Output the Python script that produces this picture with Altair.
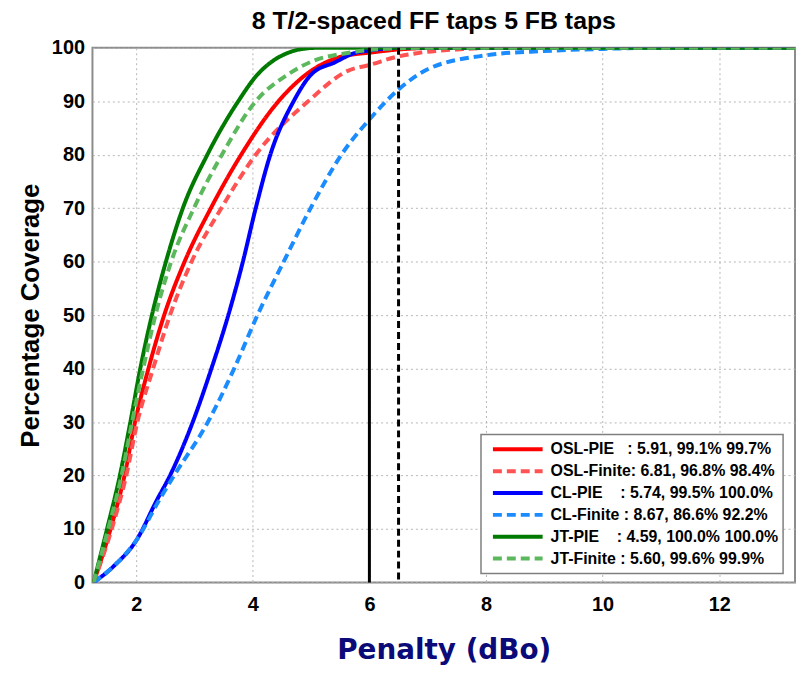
import altair as alt
import pandas as pd

# ---------------- data ----------------
labels = [
    "OSL-PIE\u00a0\u00a0\u00a0: 5.91, 99.1% 99.7%",
    "OSL-Finite: 6.81, 96.8% 98.4%",
    "CL-PIE\u00a0\u00a0\u00a0\u00a0: 5.74, 99.5% 100.0%",
    "CL-Finite : 8.67, 86.6% 92.2%",
    "JT-PIE\u00a0\u00a0\u00a0\u00a0: 4.59, 100.0% 100.0%",
    "JT-Finite : 5.60, 99.6% 99.9%",
]
colors = ["#ff0000", "#ff5252", "#0000ff", "#1a8cff", "#007a00", "#5cb85c"]
dashes = [[1, 0], [9, 5], [1, 0], [9, 5], [1, 0], [9, 5]]

osl_pie_x = [1.27, 1.56, 1.80, 1.98, 2.21, 2.48, 2.83, 3.28, 3.80, 4.44, 5.00, 5.50, 5.91, 6.00, 6.50, 7.20, 13.3]
osl_pie_y = [0, 10, 20, 30, 40, 50, 60, 70, 80, 90, 95.7, 98.3, 99.0, 99.1, 99.7, 100, 100]

osl_fin_x = [1.27, 1.58, 1.83, 2.02, 2.29, 2.58, 2.95, 3.46, 4.05, 4.95, 5.63, 6.00, 6.50, 6.81, 7.50, 8.20, 13.3]
osl_fin_y = [0, 10, 20, 30, 40, 50, 60, 70, 80, 90, 95.7, 96.8, 98.4, 99.0, 99.7, 100, 100]

cl_pie_x = [1.27, 1.61, 2.01, 2.35, 2.58, 2.97, 3.29, 3.58, 3.83, 4.05, 4.30, 4.70, 5.01, 5.41, 5.74, 6.00, 6.50, 13.3]
cl_pie_y = [0, 3, 8, 15.3, 20, 30, 40, 50, 60, 70, 80, 90, 95.1, 97.3, 99.0, 99.5, 100, 100]

cl_fin_x = [1.27, 1.61, 2.01, 2.40, 2.65, 3.23, 3.68, 4.08, 4.53, 5.01, 5.52, 6.00, 6.50, 7.00, 8.00, 9.00, 10.0, 11.0, 13.3]
cl_fin_y = [0, 3, 8, 15.5, 20, 30, 40, 50, 60, 70.4, 80, 86.6, 92.2, 96.0, 98.6, 99.4, 99.8, 100, 100]

jt_pie_x = [1.27, 1.50, 1.72, 1.90, 2.07, 2.27, 2.51, 2.80, 3.22, 3.75, 4.08, 4.35, 4.59, 4.80, 5.10, 13.3]
jt_pie_y = [0, 10, 20, 30, 40, 50, 60, 70, 80, 90, 95, 97.6, 99.0, 99.7, 100, 100]

jt_fin_x = [1.27, 1.52, 1.75, 1.93, 2.12, 2.33, 2.60, 2.99, 3.47, 4.05, 4.60, 5.00, 5.60, 6.00, 6.50, 7.00, 13.3]
jt_fin_y = [0, 10, 20, 30, 40, 50, 60, 70, 80, 90, 95, 97.4, 99.0, 99.6, 99.9, 100, 100]

series_x = [osl_pie_x, osl_fin_x, cl_pie_x, cl_fin_x, jt_pie_x, jt_fin_x]
series_y = [osl_pie_y, osl_fin_y, cl_pie_y, cl_fin_y, jt_pie_y, jt_fin_y]

solid_threshold = [6.0]
dashed_threshold = [6.5]

x_ticks = [2, 4, 6, 8, 10, 12]
y_ticks = [0, 10, 20, 30, 40, 50, 60, 70, 80, 90, 100]

# ---------------- tables ----------------
rows = []
for lab, xs, ys in zip(labels, series_x, series_y):
    for i, (xv, yv) in enumerate(zip(xs, ys)):
        rows.append({"series": lab, "penalty": xv, "coverage": yv, "order": i})
df = pd.DataFrame(rows)
df_solid = pd.DataFrame({"penalty": solid_threshold})
df_dash = pd.DataFrame({"penalty": dashed_threshold})

FONT = "Liberation Sans"
x_scale = alt.Scale(domain=[1.25, 13.3], nice=False, zero=False)
y_scale = alt.Scale(domain=[0, 100], nice=False)

legend = alt.Legend(title=None, orient="none", legendX=391, legendY=389)

lines = alt.Chart(df).mark_line(strokeWidth=4, clip=True, interpolate="monotone").encode(
    x=alt.X("penalty:Q", scale=x_scale,
            axis=alt.Axis(values=x_ticks, format="d", title="Penalty (dBo)")),
    y=alt.Y("coverage:Q", scale=y_scale,
            axis=alt.Axis(values=y_ticks, format="d", title="Percentage Coverage")),
    color=alt.Color("series:N", sort=labels,
                    scale=alt.Scale(domain=labels, range=colors), legend=legend),
    strokeDash=alt.StrokeDash("series:N", sort=labels,
                              scale=alt.Scale(domain=labels, range=dashes), legend=legend),
    order="order:Q",
)

rule_solid = alt.Chart(df_solid).mark_rule(color="black", strokeWidth=3).encode(x="penalty:Q")
rule_dash = alt.Chart(df_dash).mark_rule(color="black", strokeWidth=3, strokeDash=[7, 4]).encode(x="penalty:Q")

chart = alt.layer(lines, rule_solid, rule_dash).properties(
    width=707, height=538,
    title=alt.Title("8 T/2-spaced FF taps 5 FB taps", font=FONT, fontSize=25,
                    fontWeight="bold", color="black", anchor="middle", offset=4, dx=-10),
    padding={"left": 85, "top": 38, "right": 2, "bottom": 81},
    autosize=alt.AutoSizeParams(type="none"),
).configure_view(
    stroke="#8c8c8c", strokeWidth=2
).configure_axis(
    domain=False,
    ticks=False,
    grid=True,
    gridColor="#b5b5b5",
    gridDash=[2, 3],
    gridWidth=1,
    labelFont=FONT,
    labelFontSize=20,
    labelFontWeight="bold",
    labelColor="black",
    titleFont=FONT,
    titleFontWeight="bold",
    titleColor="black",
).configure_axisX(
    labelPadding=12,
    titleFont="DejaVu Sans",
    titleFontSize=28,
    titleColor="#0a0a78",
    titlePadding=23,
).configure_axisY(
    labelPadding=8,
    titleFontSize=26,
    titlePadding=8,
).configure_legend(
    padding=4,
    fillColor="white",
    strokeColor="#7f7f7f",
    strokeWidth=1.5,
    symbolType="stroke",
    symbolSize=2500,
    symbolStrokeWidth=4,
    symbolOffset=6,
    clipHeight=22,
    rowPadding=0,
    labelFont=FONT,
    labelFontSize=16,
    labelFontWeight="bold",
    labelColor="black",
    labelOffset=6,
    labelLimit=400,
)

chart.save("out.html", embed_options={"renderer": "svg", "actions": False})
